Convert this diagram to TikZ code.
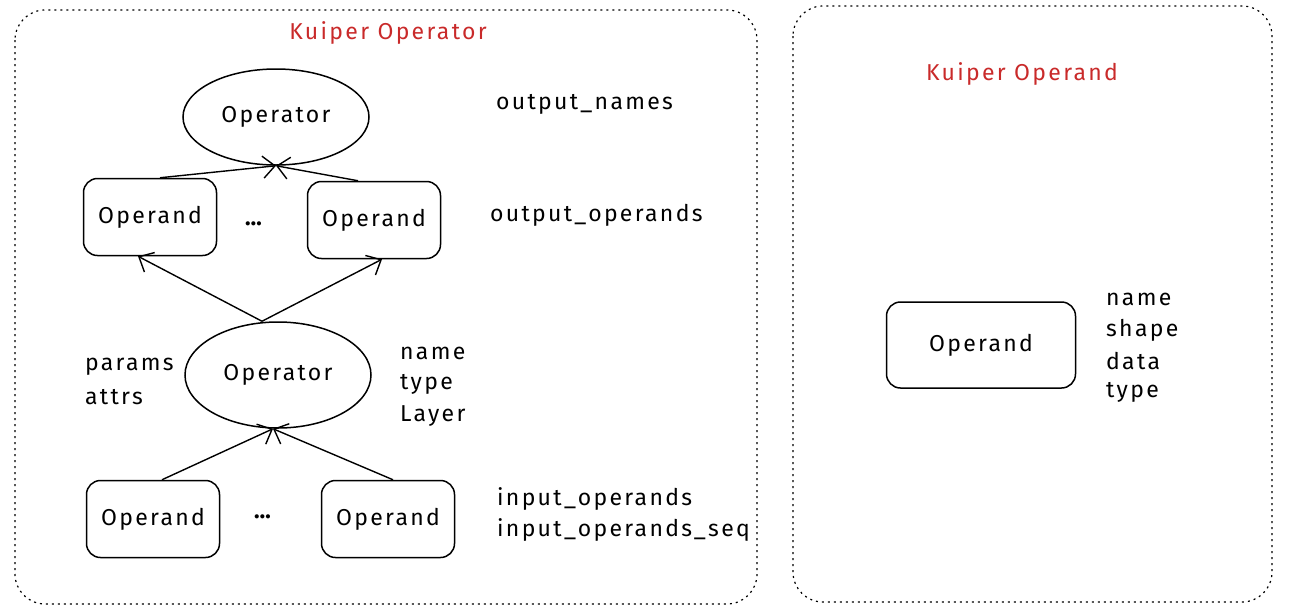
\documentclass[tikz,border=0pt]{standalone}
\usepackage{fontspec}
\setmainfont{Fira Sans}[LetterSpace=10]
\usetikzlibrary{arrows.meta,shapes.geometric}
\definecolor{kred}{RGB}{201,42,42}
\begin{document}
\begin{tikzpicture}[x=1pt,y=-1pt,
  frame/.style={draw, line width=1.2pt, dash pattern=on 2pt off 4pt, rounded corners=30pt},
  opbox/.style={draw, line width=1.5pt, rounded corners=14pt, minimum width=133pt, minimum height=77pt, font=\fontsize{23}{26}\selectfont},
  oper/.style={draw, ellipse, line width=1.5pt, minimum width=186pt, minimum height=96pt, inner sep=0pt, font=\fontsize{23}{26}\selectfont},
  lab/.style={anchor=west, inner sep=0pt, font=\fontsize{23}{26}\selectfont},
  ttl/.style={text=kred, font=\fontsize{23}{26}\selectfont},
  arr/.style={-{Straight Barb[length=12pt,width=22pt]}, line width=1.4pt}]
\useasboundingbox (0,0) rectangle (1303,611);
\draw[frame] (15,10) rectangle (757,604);
\draw[frame] (793,6) rectangle (1272,602);
\node[ttl] (t1) at (388,33) {Kuiper Operator};
\node[ttl] (t2) at (1022,74) {Kuiper Operand};
% nodes
\node[oper] (op1) at (276,117) {Operator};
\node[opbox] (b1) at (150,217) {Operand};
\node[opbox] (b2) at (374,220) {Operand};
\node[lab] (d1) at (245,224) {\textbf{\ldots}};
\node[oper, minimum height=106pt] (op2) at (278,375) {Operator};
\node[opbox] (b3) at (153,519) {Operand};
\node[opbox] (b4) at (388,519) {Operand};
\node[lab] (d2) at (254,517) {\textbf{\ldots}};
\node[opbox, minimum width=189pt, minimum height=86pt] (b5) at (981,345) {Operand};
% labels
\node[lab] (l1) at (496,104) {output\_names};
\node[lab] (l2) at (490,215) {output\_operands};
\node[lab] (l3) at (85,367) {params};
\node[lab] (l4) at (85,397) {attrs};
\node[lab] (l5) at (400,353) {name};
\node[lab] (l6) at (400,384) {type};
\node[lab] (l7) at (400,416) {Layer};
\node[lab] (l8) at (497,499) {input\_operands};
\node[lab] (l9) at (497,530) {input\_operands\_seq};
\node[lab] (l10) at (1106,299) {name};
\node[lab] (l11) at (1106,330) {shape};
\node[lab] (l12) at (1106,361) {data};
\node[lab] (l13) at (1106,392) {type};
% arrows
\draw[arr] ([xshift=10pt]b1.north) -- (op1.south);
\draw[arr] ([xshift=-16pt]b2.north) -- (op1.south);
\draw[arr] ([xshift=-16pt]op2.north) -- ([xshift=-12pt]b1.south);
\draw[arr] ([xshift=-16pt]op2.north) -- ([xshift=8pt]b2.south);
\draw[arr] ([xshift=9pt]b3.north) -- ([xshift=-5pt]op2.south);
\draw[arr] ([xshift=5pt]b4.north) -- ([xshift=-5pt]op2.south);
\end{tikzpicture}
\end{document}
